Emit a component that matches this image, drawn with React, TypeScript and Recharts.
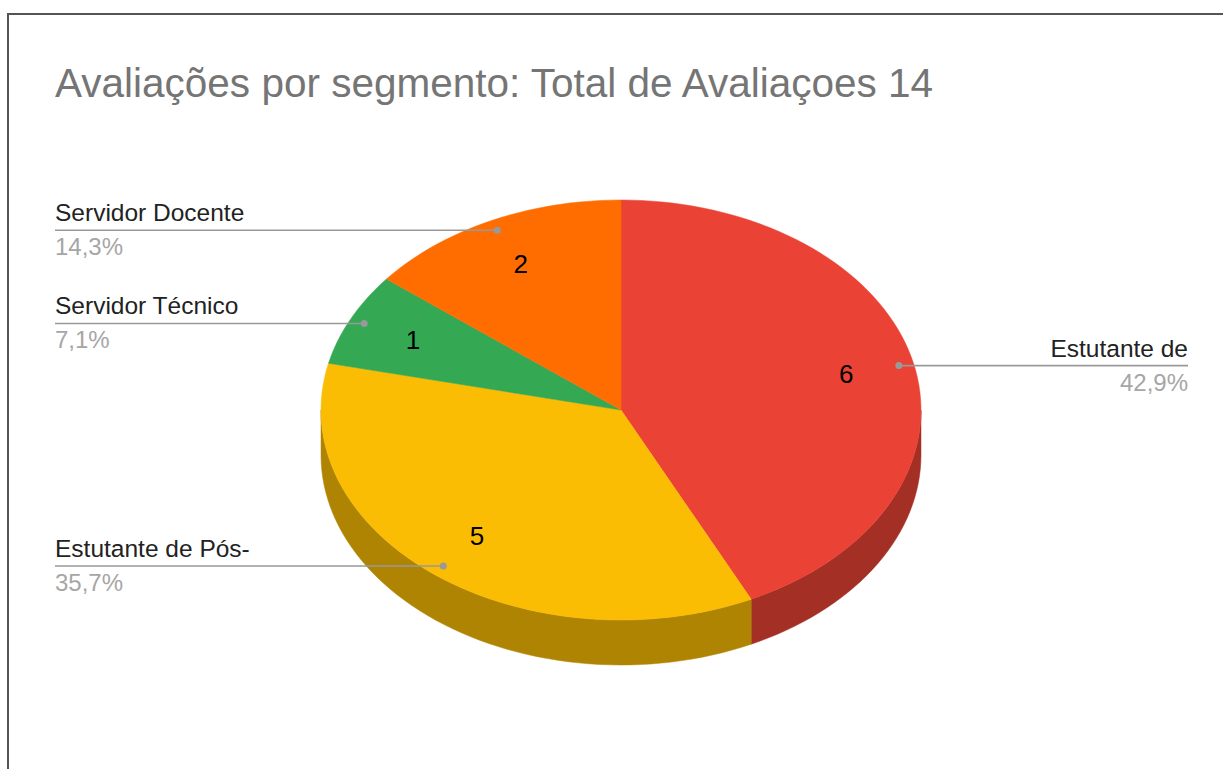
import { Pie, PieChart } from "recharts";

const categories = ["Estutante de", "Estutante de Pós-", "Servidor Técnico", "Servidor Docente"];
const counts = [6, 5, 1, 2];
const colors = ["#ea4335", "#fbbc04", "#34a853", "#ff6d01"];

const TITLE = "Avaliações por segmento: Total de Avaliaçoes 14";

const W = 1223;
const H = 769;
const CX = 621;
const CY = 410;
const R = 300;
const TILT = 0.7; // vertical squash of the pie ellipse
const DEPTH = 45;
const LEFT_X = 55;
const RIGHT_X = 1188;
const FONT = '"Liberation Sans", Arial, sans-serif';

const data = categories.map((name, i) => ({ name, value: counts[i], fill: colors[i] }));

const rad = (a: number) => (a * Math.PI) / 180;
const pt = (cx: number, cy: number, r: number, a: number): [number, number] => [
  cx + r * Math.cos(rad(a)),
  cy - r * TILT * Math.sin(rad(a)),
];

function arcPoints(cx: number, cy: number, r: number, from: number, to: number) {
  const n = Math.max(2, Math.ceil(Math.abs(to - from) / 2));
  const out: [number, number][] = [];
  for (let i = 0; i <= n; i++) out.push(pt(cx, cy, r, from + ((to - from) * i) / n));
  return out;
}

function darken(hex: string, f = 0.7) {
  const n = parseInt(hex.slice(1), 16);
  const c = [(n >> 16) & 255, (n >> 8) & 255, n & 255].map((v) => Math.round(v * f));
  return `rgb(${c[0]},${c[1]},${c[2]})`;
}

function TopFace(props: any) {
  const { cx, cy, outerRadius, startAngle, endAngle, fill } = props;
  const pts = arcPoints(cx, cy, outerRadius, startAngle, endAngle);
  const d = `M${cx},${cy} ` + pts.map((p) => `L${p[0]},${p[1]}`).join(" ") + " Z";
  return <path d={d} fill={fill} stroke={fill} strokeWidth={0.5} />;
}

function SideWall(props: any) {
  const { cx, cy, outerRadius, startAngle, endAngle, fill } = props;
  const hi = Math.min(Math.max(startAngle, endAngle), 0);
  const lo = Math.max(Math.min(startAngle, endAngle), -180);
  if (lo >= hi) return <g />;
  const top = arcPoints(cx, cy, outerRadius, hi, lo);
  const bottom = arcPoints(cx, cy + DEPTH, outerRadius, lo, hi);
  const d =
    `M${top[0][0]},${top[0][1]} ` +
    top.slice(1).map((p) => `L${p[0]},${p[1]}`).join(" ") +
    " " +
    bottom.map((p) => `L${p[0]},${p[1]}`).join(" ") +
    " Z";
  const side = darken(fill);
  return <path d={d} fill={side} stroke={side} strokeWidth={0.5} />;
}

function renderLabel(props: any) {
  const { cx, cy, midAngle, outerRadius, value, percent } = props;
  const name = props.payload?.name ?? props.name;
  const [vx, vy] = pt(cx, cy, outerRadius * 0.77, midAngle);
  const [dx, dy] = pt(cx, cy, outerRadius * 0.95, midAngle);
  const right = Math.cos(rad(midAngle)) > 0;
  const endX = right ? RIGHT_X : LEFT_X;
  const anchor = right ? "end" : "start";
  const pct = (percent * 100).toFixed(1).replace(".", ",") + "%";
  return (
    <g>
      <text x={vx} y={vy} textAnchor="middle" dominantBaseline="central" fontSize={26} fontFamily={FONT} fill="#000">
        {value}
      </text>
      <line x1={dx} y1={dy} x2={endX} y2={dy} stroke="#999" strokeWidth={1.6} />
      <circle cx={dx} cy={dy} r={3.5} fill="#999" />
      <text x={endX} y={dy - 9} textAnchor={anchor} fontSize={24.5} fontFamily={FONT} fill="#222">
        {name}
      </text>
      <text x={endX} y={dy + 25} textAnchor={anchor} fontSize={24} fontFamily={FONT} fill="#a6a6a6">
        {pct}
      </text>
    </g>
  );
}

export default function App() {
  return (
    <div style={{ position: "fixed", left: 0, top: 0, width: W, height: H, background: "#fff", overflow: "hidden" }}>
      <div
        style={{
          position: "absolute",
          left: 7,
          top: 13,
          width: W + 100,
          height: H + 100,
          border: "2px solid #555",
        }}
      />
      <svg width={W} height={H} style={{ position: "absolute", left: 0, top: 0 }}>
        <text x={55} y={97} fontSize={40.5} fontFamily={FONT} fill="#757575">
          {TITLE}
        </text>
      </svg>
      <div style={{ position: "absolute", left: 0, top: 0 }}>
        <PieChart width={W} height={H} margin={{ top: 0, right: 0, bottom: 0, left: 0 }}>
          <Pie
            data={data}
            dataKey="value"
            nameKey="name"
            cx={CX}
            cy={CY}
            outerRadius={R}
            startAngle={90}
            endAngle={-270}
            stroke="none"
            isAnimationActive={false}
            shape={SideWall}
            inactiveShape={SideWall}
            activeShape={SideWall}
          />
          <Pie
            data={data}
            dataKey="value"
            nameKey="name"
            cx={CX}
            cy={CY}
            outerRadius={R}
            startAngle={90}
            endAngle={-270}
            stroke="none"
            isAnimationActive={false}
            shape={TopFace}
            inactiveShape={TopFace}
            activeShape={TopFace}
            label={renderLabel}
            labelLine={false}
          />
        </PieChart>
      </div>
    </div>
  );
}
